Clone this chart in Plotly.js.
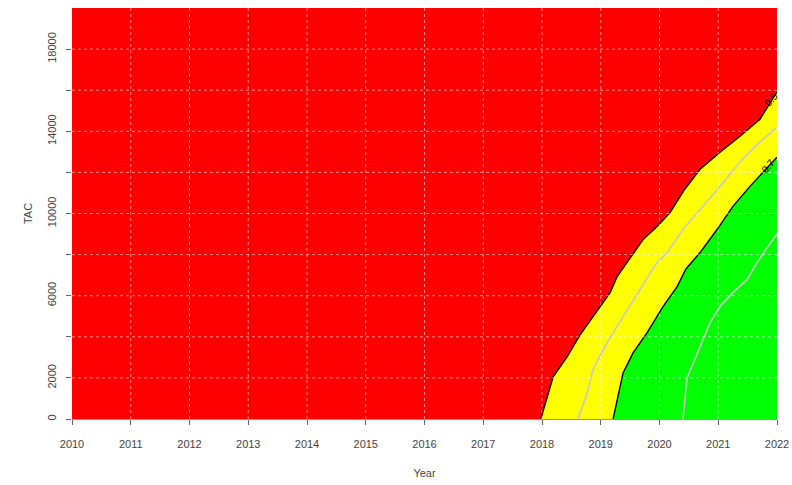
<!DOCTYPE html>
<html>
<head>
<meta charset="utf-8">
<script src="https://cdn.plot.ly/plotly-3.0.1.min.js"></script>
<style>html,body{margin:0;padding:0;background:#fff;}#chart{width:792px;height:485px;}</style>
</head>
<body>
<div id="chart"></div>
<script>
// Year ticks and TAC ticks
const years = [2010,2011,2012,2013,2014,2015,2016,2017,2018,2019,2020,2021,2022];
const tacTicks = [0,2000,4000,6000,8000,10000,12000,14000,16000,18000];
const tacTickText = ["0","2000","","6000","","10000","","14000","","18000"];

// Contour 0.5 (red / yellow boundary)
const c50Year = [2017.98,2018.19,2018.43,2018.65,2018.99,2019.16,2019.28,2019.45,2019.72,2019.96,2020.18,2020.43,2020.69,2021.03,2021.37,2021.71,2022.0];
const c50Tac  = [0,2050,3030,4100,5470,6150,6930,7610,8730,9370,10050,11180,12150,12980,13760,14590,15910];

// Contour 0.6 (grey, inside yellow)
const c60Year = [2018.61,2018.77,2018.87,2019.11,2019.38,2019.67,2019.96,2020.13,2020.40,2020.74,2021.03,2021.37,2021.71,2022.0];
const c60Tac  = [0,1270,2390,3710,4980,6300,7610,8100,9220,10350,11320,12490,13470,14200];

// Contour 0.7 (yellow / green boundary)
const c70Year = [2019.21,2019.33,2019.38,2019.55,2019.79,2020.06,2020.30,2020.45,2020.69,2020.98,2021.25,2021.54,2021.76,2022.0];
const c70Tac  = [0,1560,2240,3220,4200,5470,6440,7300,8100,9220,10350,11320,12000,12740];

// Contour 0.8 (grey, inside green)
const c80Year = [2020.40,2020.43,2020.47,2020.69,2020.86,2021.03,2021.25,2021.49,2021.66,2021.85,2022.0];
const c80Tac  = [0,1000,2000,3510,4680,5470,6150,6780,7610,8400,9000];

const xMax = years[years.length-1];
function closeRegion(xs, ys){
  // polygon from the contour to the lower-right corner
  return {x: xs.concat([xMax, xs[0]]), y: ys.concat([0, 0])};
}
const yellowPoly = closeRegion(c50Year, c50Tac);
const greenPoly = closeRegion(c70Year, c70Tac);

const traces = [
  {type:'scatter', mode:'lines', x:yellowPoly.x, y:yellowPoly.y, fill:'toself', fillcolor:'#FFFF00', line:{width:0}, hoverinfo:'skip', showlegend:false},
  {type:'scatter', mode:'lines', x:greenPoly.x, y:greenPoly.y, fill:'toself', fillcolor:'#00FF00', line:{width:0}, hoverinfo:'skip', showlegend:false},
  {type:'scatter', mode:'lines', x:c60Year, y:c60Tac, line:{color:'#C8C8C8', width:1.6, shape:'spline', smoothing:0.6}, showlegend:false},
  {type:'scatter', mode:'lines', x:c80Year, y:c80Tac, line:{color:'#C8C8C8', width:1.6}, showlegend:false},
  {type:'scatter', mode:'lines', x:c50Year, y:c50Tac, line:{color:'#000000', width:1.4}, showlegend:false},
  {type:'scatter', mode:'lines', x:c70Year, y:c70Tac, line:{color:'#000000', width:1.4}, showlegend:false}
];

const shapes = [];
years.slice(1, -1).forEach(yr => shapes.push({type:'line', layer:'above', xref:'x', yref:'paper', x0:yr, x1:yr, y0:0, y1:1, line:{color:'rgba(255,255,255,0.5)', width:1, dash:'dot'}}));
tacTicks.slice(1).forEach(t => shapes.push({type:'line', layer:'above', xref:'paper', yref:'y', x0:0, x1:1, y0:t, y1:t, line:{color:'rgba(255,255,255,0.55)', width:1, dash:'dot'}}));

const layout = {
  width:792, height:485,
  margin:{l:72, r:15, t:8, b:66},
  paper_bgcolor:'#FFFFFF',
  plot_bgcolor:'#FF0000',
  font:{family:'Liberation Sans, Arial, sans-serif', size:11, color:'#444'},
  xaxis:{
    range:[2010, 2022], tickvals:years, ticktext:years.map(String),
    showgrid:false, zeroline:false, showline:true, linecolor:'#999', linewidth:1,
    ticks:'outside', ticklen:5, tickcolor:'#666', ticklabelstandoff:10,
    tickfont:{size:11, color:'#444'},
    title:{text:'Year', font:{size:11, color:'#444'}, standoff:20}
  },
  yaxis:{
    range:[0, 20000], tickvals:tacTicks, ticktext:tacTickText, tickangle:-90,
    showgrid:false, zeroline:false, showline:false,
    ticks:'outside', ticklen:5, tickcolor:'#666', ticklabelstandoff:6,
    tickfont:{size:11, color:'#444'},
    title:{text:'TAC', font:{size:11, color:'#444'}, standoff:10}
  },
  shapes: shapes,
  annotations:[
    {x:2021.9, y:15550, xref:'x', yref:'y', text:'0.5', showarrow:false, textangle:-50, font:{size:10, color:'#000'}},
    {x:2021.84, y:12300, xref:'x', yref:'y', text:'0.7', showarrow:false, textangle:-50, font:{size:10, color:'#000'}}
  ]
};

Plotly.newPlot('chart', traces, layout, {staticPlot:true, displayModeBar:false});
</script>
</body>
</html>
